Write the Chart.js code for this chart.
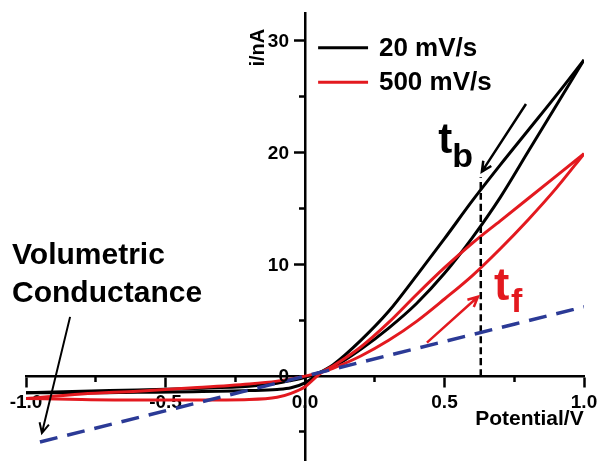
<!DOCTYPE html>
<html>
<head>
<meta charset="utf-8">
<script src="https://cdn.jsdelivr.net/npm/chart.js@4.4.1/dist/chart.umd.min.js"></script>
<style>
  html, body { margin: 0; padding: 0; background: #fff; }
</style>
</head>
<body>
<canvas id="cv" width="598" height="461"></canvas>
<script>
// potential (V) shared by every branch of both loops
const potential = [-1.0, -0.8, -0.6, -0.4, -0.2, -0.1, -0.05, 0.0, 0.06, 0.1, 0.2, 0.3, 0.4, 0.5, 0.6, 0.7, 0.8, 0.9, 1.0];

// current (nA), 20 mV/s
const slowForward  = [-1.5, -1.35, -1.25, -1.1, -0.9, -0.65, -0.4, -0.1, 0.4, 0.8, 2.4, 4.3, 6.5, 9.2, 12.4, 16.0, 20.1, 24.2, 28.3];
const slowBackward = [-1.5, -1.5, -1.45, -1.4, -1.3, -1.2, -1.05, -0.6, 0.4, 1.0, 3.2, 5.8, 9.0, 12.3, 15.7, 18.9, 22.0, 25.1, 28.3];

// current (nA), 500 mV/s
const fastForward  = [-2.0, -1.6, -1.35, -1.05, -0.7, -0.45, -0.25, 0.0, 0.35, 0.7, 1.8, 3.2, 4.9, 6.9, 9.0, 11.4, 14.0, 16.8, 19.9];
const fastBackward = [-2.0, -2.1, -2.15, -2.15, -2.1, -1.9, -1.55, -0.95, 0.35, 0.9, 2.6, 4.8, 7.3, 9.7, 11.9, 13.9, 15.9, 17.9, 19.9];

// volumetric conductance line and the dashed marker
const conductancePot = [-0.95, 1.0];
const conductanceCur = [-5.9, 6.2];
const markerPot = [0.63, 0.63];
const markerCur = [0, 17.8];

const xMajor = [-1.0, -0.5, 0.0, 0.5, 1.0];
const xMinor = [-0.75, -0.25, 0.25, 0.75];
const yMajor = [0, 10, 20, 30];
const yMinor = [-5, 5, 15, 25];

const seriesNames = ['20 mV/s', '500 mV/s'];

const BLACK = '#000000';
const RED = '#e3191f';
const BLUE = '#2b3a96';
const FONT = '"Liberation Sans", Arial, sans-serif';

const pts = (xs, ys) => xs.map((x, i) => ({ x, y: ys[i] }));
const line = (data, color, width, dash) => ({
  data, borderColor: color, borderWidth: width, borderDash: dash || [],
  pointRadius: 0, showLine: true, fill: false,
  cubicInterpolationMode: 'monotone'
});

function arrow(ctx, x1, y1, x2, y2, color, width) {
  const a = Math.atan2(y2 - y1, x2 - x1);
  const h = 11;
  ctx.strokeStyle = color;
  ctx.lineWidth = width;
  ctx.setLineDash([]);
  ctx.beginPath();
  ctx.moveTo(x1, y1);
  ctx.lineTo(x2, y2);
  ctx.moveTo(x2 - h * Math.cos(a - 0.45), y2 - h * Math.sin(a - 0.45));
  ctx.lineTo(x2, y2);
  ctx.lineTo(x2 - h * Math.cos(a + 0.45), y2 - h * Math.sin(a + 0.45));
  ctx.stroke();
}

const annotate = {
  id: 'annotate',
  afterDatasetsDraw(chart) {
    const { ctx, scales: { x, y } } = chart;
    const px = v => x.getPixelForValue(v);
    const py = v => y.getPixelForValue(v);
    ctx.save();

    // y tick labels sit left of the tick marks
    ctx.fillStyle = BLACK;
    ctx.font = 'bold 19px ' + FONT;
    ctx.textAlign = 'right';
    ctx.textBaseline = 'middle';
    y.ticks.forEach(t => ctx.fillText(String(t.value), px(0) - 16, py(t.value) + 1));
    ctx.textAlign = 'left';

    // legend
    [[BLACK, 29.4], [RED, 26.3]].forEach(([c, cur], i) => {
      ctx.strokeStyle = c;
      ctx.lineWidth = 3;
      ctx.beginPath();
      ctx.moveTo(px(0.047), py(cur));
      ctx.lineTo(px(0.226), py(cur));
      ctx.stroke();
      ctx.fillStyle = BLACK;
      ctx.font = 'bold 26px ' + FONT;
      ctx.textBaseline = 'middle';
      ctx.fillText(seriesNames[i], px(0.265), py(cur) + 1);
    });

    // arrows
    arrow(ctx, px(0.792), py(24.35), px(0.634), py(18.3), BLACK, 2.5);
    arrow(ctx, px(0.437), py(3.0), px(0.62), py(7.1), RED, 2.5);
    arrow(ctx, px(-0.842), py(5.3), px(-0.943), py(-5.1), BLACK, 2);

    ctx.textBaseline = 'alphabetic';
    ctx.fillStyle = BLACK;
    ctx.font = 'bold 42px ' + FONT;
    ctx.fillText('t', px(0.478), py(20.0));
    ctx.font = 'bold 34px ' + FONT;
    ctx.fillText('b', px(0.528), py(18.7));

    ctx.fillStyle = RED;
    ctx.font = 'bold 46px ' + FONT;
    ctx.fillText('t', px(0.677), py(6.8));
    ctx.font = 'bold 34px ' + FONT;
    ctx.fillText('f', px(0.738), py(5.7));

    ctx.fillStyle = BLACK;
    ctx.font = 'bold 30px ' + FONT;
    ctx.fillText('Volumetric', px(-1.05), py(10.0));
    ctx.fillText('Conductance', px(-1.05), py(6.6));

    // axis titles
    ctx.font = 'bold 21px ' + FONT;
    ctx.fillText('Potential/V', px(0.61), py(-4.4));
    ctx.save();
    ctx.translate(px(-0.165), py(29.4));
    ctx.rotate(-Math.PI / 2);
    ctx.font = 'bold 20px ' + FONT;
    ctx.textAlign = 'center';
    ctx.textBaseline = 'middle';
    ctx.fillText('i/nA', 0, 0);
    ctx.restore();

    ctx.restore();
  }
};

const tickFont = { family: FONT, size: 19, weight: 'bold' };
const setTicks = list => scale => { scale.ticks = list.map(v => ({ value: v })); };
// axes sit inside the plot, so they take no room and add no padding
const flatX = s => { s.height = 0; s.paddingLeft = s.paddingRight = s.paddingTop = s.paddingBottom = 0; };
const flatY = s => { s.width = 0; s.paddingLeft = s.paddingRight = s.paddingTop = s.paddingBottom = 0; };

new Chart(document.getElementById('cv'), {
  type: 'scatter',
  data: {
    datasets: [
      line(pts(conductancePot, conductanceCur), BLUE, 3.5, [18, 10]),
      line(pts(markerPot, markerCur), BLACK, 2.5, [7, 4]),
      line(pts(potential, fastForward), RED, 3),
      line(pts(potential, fastBackward), RED, 3),
      line(pts(potential, slowForward), BLACK, 3),
      line(pts(potential, slowBackward), BLACK, 3)
    ]
  },
  options: {
    responsive: false,
    animation: false,
    layout: { padding: { left: 26, right: 14, top: 13, bottom: 0 }, autoPadding: false },
    plugins: { legend: { display: false }, tooltip: { enabled: false } },
    scales: {
      x: {
        type: 'linear', min: -1, max: 1, position: { y: 0 },
        afterBuildTicks: setTicks(xMajor),
        afterFit: flatX,
        grid: { drawOnChartArea: false, tickLength: 10, tickWidth: 2.5, tickColor: BLACK },
        border: { display: true, color: BLACK, width: 2.5 },
        ticks: { color: BLACK, font: tickFont, padding: 5, maxRotation: 0, autoSkip: false,
                 callback: v => v.toFixed(1) }
      },
      xm: {
        axis: 'x', type: 'linear', min: -1, max: 1, position: { y: 0 },
        afterBuildTicks: setTicks(xMinor),
        afterFit: flatX,
        grid: { drawOnChartArea: false, tickLength: 6, tickWidth: 2.5, tickColor: BLACK },
        border: { display: false },
        ticks: { display: false }
      },
      y: {
        type: 'linear', min: -7.6, max: 32.5, position: { x: 0 },
        afterBuildTicks: setTicks(yMajor),
        afterFit: flatY,
        grid: { drawOnChartArea: false, tickLength: 10, tickWidth: 2.5, tickColor: BLACK },
        border: { display: true, color: BLACK, width: 2.5 },
        ticks: { display: false }
      },
      ym: {
        axis: 'y', type: 'linear', min: -7.6, max: 32.5, position: { x: 0 },
        afterBuildTicks: setTicks(yMinor),
        afterFit: flatY,
        grid: { drawOnChartArea: false, tickLength: 6, tickWidth: 2.5, tickColor: BLACK },
        border: { display: false },
        ticks: { display: false }
      }
    }
  },
  plugins: [annotate]
});
</script>
</body>
</html>
